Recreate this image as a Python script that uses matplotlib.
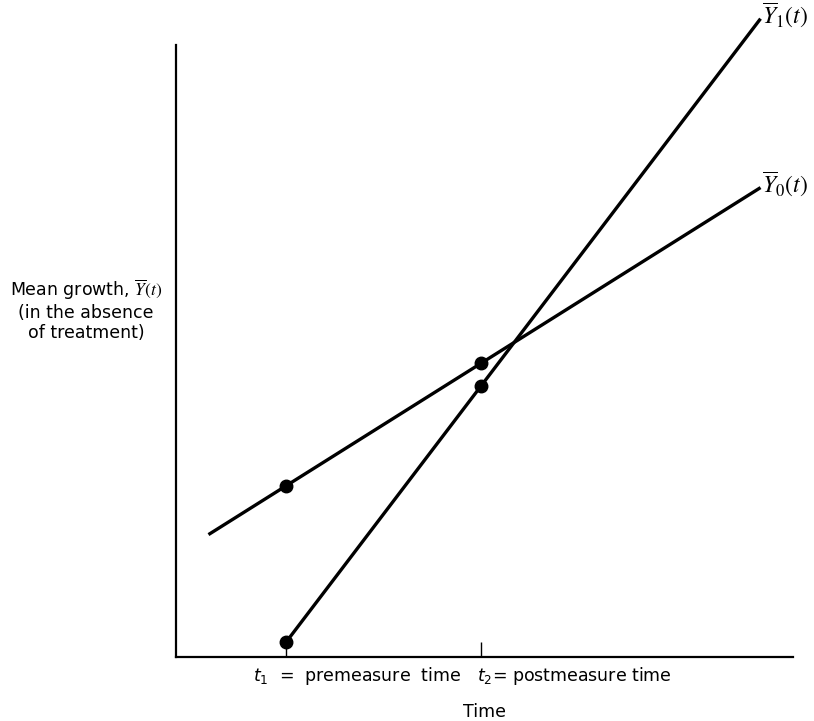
import matplotlib
matplotlib.use("Agg")
import matplotlib.pyplot as plt
from matplotlib.transforms import blended_transform_factory

plt.rcParams["font.family"] = ["DejaVu Sans"]
plt.rcParams["mathtext.fontset"] = "stix"

# Measurement times
t_pre = 2.0
t_post = 5.0
tick_times = [t_pre, t_post]

# Group 0 (slow growth): trend line and measured means
y0_line_t = [0.8, 9.3]
y0_line_v = [2.0, 7.67]
y0_points_t = [t_pre, t_post]
y0_points_v = [2.8, 4.8]

# Group 1 (fast growth): trend line and measured means
y1_line_t = [2.0, 9.3]
y1_line_v = [0.25, 10.43]
y1_points_t = [t_pre, t_post]
y1_points_v = [0.25, 4.43]

tick_labels = [r"$t_1$  =  premeasure  time", r"$t_2$= postmeasure time"]
curve_labels = [r"$\overline{Y}_1(t)$", r"$\overline{Y}_0(t)$"]

fig = plt.figure(figsize=(8.14, 7.21), dpi=100)
ax = fig.add_axes([176 / 814, (721 - 657) / 721, (793 - 176) / 814, (657 - 45) / 721])
ax.set_xlim(0.3, 9.8)
ax.set_ylim(0, 10)

for s in ["top", "right"]:
    ax.spines[s].set_visible(False)
for s in ["left", "bottom"]:
    ax.spines[s].set_linewidth(1.6)
    ax.spines[s].set_color("black")

lw = 2.4
ax.plot(y0_line_t, y0_line_v, color="black", lw=lw, solid_capstyle="butt", clip_on=False)
ax.plot(y1_line_t, y1_line_v, color="black", lw=lw, solid_capstyle="butt", clip_on=False)
ax.plot(y0_points_t, y0_points_v, "o", color="black", ms=9, clip_on=False, zorder=5)
ax.plot(y1_points_t, y1_points_v, "o", color="black", ms=9, clip_on=False, zorder=5)

ax.text(y1_line_t[-1] + 0.03, y1_line_v[-1] + 0.05, curve_labels[0], fontsize=17,
        ha="left", va="center")
ax.text(y0_line_t[-1] + 0.03, y0_line_v[-1] + 0.05, curve_labels[1], fontsize=17,
        ha="left", va="center")

ax.set_xticks(tick_times)
ax.set_xticklabels([])
ax.set_yticks([])
ax.tick_params(axis="x", direction="in", length=11, width=1.0, color="black")

trans = blended_transform_factory(ax.transData, ax.transAxes)
ax.text(t_pre - 0.52, -0.031, tick_labels[0], transform=trans, fontsize=12.5,
        ha="left", va="center", math_fontfamily="dejavusans")
ax.text(t_post - 0.06, -0.031, tick_labels[1], transform=trans, fontsize=12.5,
        ha="left", va="center", math_fontfamily="dejavusans")

ax.text(0.5, -0.09, "Time", transform=ax.transAxes, fontsize=12.5, ha="center", va="center")

fig.text(86 / 814, 1 - 310 / 721,
         "Mean growth, $\\overline{Y}(t)$\n(in the absence\nof treatment)",
         fontsize=12.5, ha="center", va="center", linespacing=1.15)

fig.savefig("out.png", dpi=100)
